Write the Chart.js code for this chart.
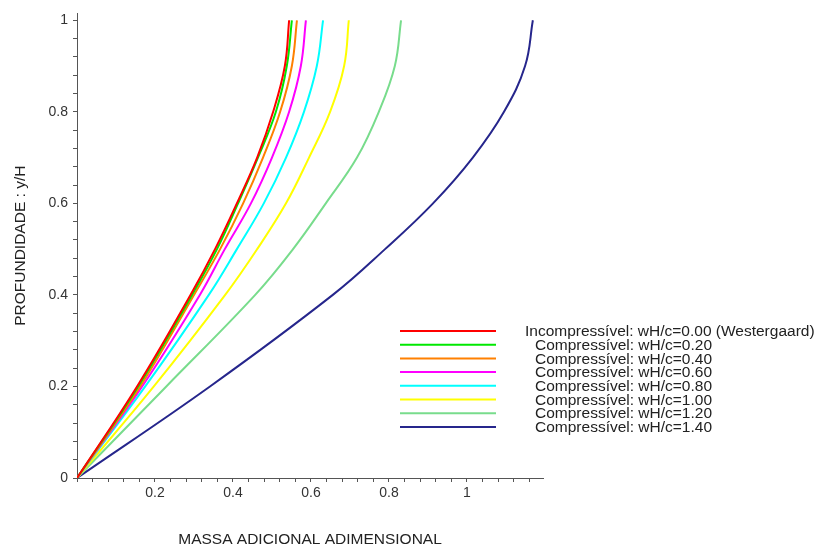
<!DOCTYPE html>
<html>
<head>
<meta charset="utf-8">
<title>Massa adicional adimensional</title>
<script src="https://cdn.jsdelivr.net/npm/chart.js@4.4.0/dist/chart.umd.min.js"></script>
<style>
    html, body { margin: 0; padding: 0; background: #fff; }
    #wrap { width: 818px; height: 549px; }
</style>
</head>
<body>
<div id="wrap"><canvas id="chart" width="818" height="549"></canvas></div>
<script>
// Depth levels (y/H) where the curves were read
const depth = [0, 0.2, 0.4, 0.5, 0.6, 0.7, 0.8, 0.9, 1.0];

// Dimensionless added mass for each wH/c
const mass000 = [0, 0.154, 0.291, 0.354, 0.410, 0.462, 0.503, 0.533, 0.544];
const mass020 = [0, 0.157, 0.295, 0.359, 0.413, 0.464, 0.510, 0.538, 0.551];
const mass040 = [0, 0.162, 0.300, 0.367, 0.426, 0.477, 0.521, 0.551, 0.564];
const mass060 = [0, 0.167, 0.315, 0.379, 0.446, 0.500, 0.544, 0.574, 0.587];
const mass080 = [0, 0.175, 0.338, 0.410, 0.479, 0.536, 0.582, 0.615, 0.631];
const mass100 = [0, 0.197, 0.380, 0.462, 0.536, 0.595, 0.649, 0.685, 0.697];
const mass120 = [0, 0.229, 0.457, 0.554, 0.638, 0.718, 0.774, 0.815, 0.831];
const mass140 = [0, 0.341, 0.656, 0.790, 0.913, 1.015, 1.095, 1.149, 1.169];

const seriesLabels = [
    'Incompressível: wH/c=0.00 (Westergaard)',
    'Compressível: wH/c=0.20',
    'Compressível: wH/c=0.40',
    'Compressível: wH/c=0.60',
    'Compressível: wH/c=0.80',
    'Compressível: wH/c=1.00',
    'Compressível: wH/c=1.20',
    'Compressível: wH/c=1.40'
];
const seriesValues = [mass000, mass020, mass040, mass060, mass080, mass100, mass120, mass140];
const seriesColors = ['#ff0000', '#00e800', '#ff8000', '#ff00ff', '#00ffff', '#ffff00', '#78dc8c', '#26268c'];

// Axis tick labels (every 0.2, minor marks every 0.04)
const xTickLabels = ['0.2', '0.4', '0.6', '0.8', '1'];
const yTickLabels = ['0', '0.2', '0.4', '0.6', '0.8', '1'];

const FONT = "'Liberation Sans', Arial, sans-serif";

function majorLabel(value, labels, skipZero) {
    const k = Math.round(value / 0.2);
    if (Math.abs(value / 0.2 - k) > 1e-6) return '';
    if (k === 0) return skipZero ? '' : labels[0];
    return labels[skipZero ? k - 1 : k] || '';
}

// Legend drawn inside the plot like the original
const insideLegend = {
    id: 'insideLegend',
    afterDatasetsDraw(chart) {
        const ctx = chart.ctx;
        ctx.save();
        ctx.font = '15.5px ' + FONT;
        ctx.fillStyle = '#222';
        ctx.textBaseline = 'middle';
        chart.data.datasets.forEach((ds, i) => {
            const y = 331 + i * 13.7;
            ctx.strokeStyle = ds.borderColor;
            ctx.lineWidth = 2;
            ctx.beginPath();
            ctx.moveTo(400, y);
            ctx.lineTo(496, y);
            ctx.stroke();
            ctx.fillText(ds.label, i === 0 ? 525 : 535, y + 1);
        });
        ctx.restore();
    }
};

const datasets = seriesValues.map((vals, i) => ({
    label: seriesLabels[i],
    data: vals.map((v, j) => ({ x: v, y: depth[j] })),
    borderColor: seriesColors[i],
    backgroundColor: seriesColors[i],
    borderWidth: 2,
    pointRadius: 0,
    fill: false,
    tension: 0.4
}));

const ctx = document.getElementById('chart').getContext('2d');
new Chart(ctx, {
    type: 'line',
    data: { datasets: datasets },
    options: {
        responsive: false,
        animation: false,
        layout: { padding: { left: 0, right: 275, top: 12, bottom: 0 } },
        plugins: {
            legend: { display: false },
            tooltip: { enabled: false }
        },
        scales: {
            x: {
                type: 'linear',
                min: 0,
                max: 1.195,
                afterFit: (scale) => { scale.height = 71; },
                border: { display: true, color: '#555', width: 1 },
                grid: { drawOnChartArea: false, drawTicks: true, tickLength: 4, color: '#555' },
                ticks: {
                    stepSize: 0.04,
                    autoSkip: false,
                    includeBounds: false,
                    maxRotation: 0,
                    padding: 3,
                    color: '#333',
                    font: { family: FONT, size: 14 },
                    callback: (v) => majorLabel(v, xTickLabels, true)
                },
                title: {
                    display: true,
                    text: 'MASSA ADICIONAL ADIMENSIONAL',
                    color: '#222',
                    font: { family: FONT, size: 15.5 },
                    padding: { top: 0, bottom: 0 }
                }
            },
            y: {
                type: 'linear',
                min: 0,
                max: 1.015,
                afterFit: (scale) => { scale.width = 77; },
                border: { display: true, color: '#555', width: 1 },
                grid: { drawOnChartArea: false, drawTicks: true, tickLength: 4, color: '#555' },
                ticks: {
                    stepSize: 0.04,
                    autoSkip: false,
                    includeBounds: false,
                    padding: 5,
                    color: '#333',
                    font: { family: FONT, size: 14 },
                    callback: (v) => majorLabel(v, yTickLabels, false)
                },
                title: {
                    display: true,
                    text: 'PROFUNDIDADE : y/H',
                    color: '#222',
                    font: { family: FONT, size: 15.5 },
                    padding: { top: 11, bottom: 0 }
                }
            }
        }
    },
    plugins: [insideLegend]
});
</script>
</body>
</html>
